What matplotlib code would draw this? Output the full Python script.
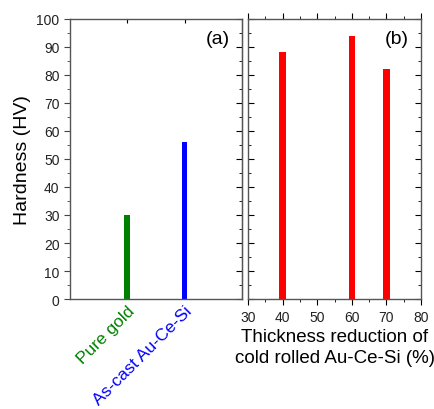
import matplotlib.pyplot as plt
from matplotlib.ticker import MultipleLocator

plt.rcParams['font.family'] = ['Liberation Sans', 'DejaVu Sans']

# panel (a)
materials = ['Pure gold', 'As-cast Au-Ce-Si']
hardness_a = [30, 56]
colors_a = ['green', 'blue']

# panel (b)
reduction = [40, 60, 70]
hardness_b = [88, 94, 82]

fig = plt.figure(figsize=(4.35, 4.10), dpi=100)
ax1 = fig.add_axes([0.161, 0.268, 0.395, 0.684])
ax2 = fig.add_axes([0.570, 0.268, 0.398, 0.684])

pos = [1, 2]
ax1.bar(pos, hardness_a, width=0.1, color=colors_a)
ax1.set_xlim(0, 3)
ax1.set_ylim(0, 100)
ax1.set_xticks(pos)
ax1.set_xticklabels(materials, rotation=45, ha='right', rotation_mode='anchor', fontsize=12.5)
for lab, c in zip(ax1.get_xticklabels(), colors_a):
    lab.set_color(c)
ax1.yaxis.set_major_locator(MultipleLocator(10))
ax1.yaxis.set_minor_locator(MultipleLocator(5))
ax1.tick_params(axis='y', which='both', direction='out', labelsize=10, colors='#444444', labelcolor='#222222')
ax1.tick_params(axis='y', which='major', length=4)
ax1.tick_params(axis='y', which='minor', length=2)
ax1.tick_params(axis='x', which='both', top=True, bottom=False, direction='in', length=3, pad=3)
ax1.set_ylabel('Hardness (HV)', fontsize=14, labelpad=4)
ax1.text(0.93, 0.93, '(a)', transform=ax1.transAxes, ha='right', va='center', fontsize=14)
# right spine ticks (inward)
sec = ax1.secondary_yaxis('right')
sec.yaxis.set_major_locator(MultipleLocator(10))
sec.yaxis.set_minor_locator(MultipleLocator(5))
sec.tick_params(which='both', direction='in', labelright=False)
sec.tick_params(which='major', length=4)
sec.tick_params(which='minor', length=2)

ax2.bar(reduction, hardness_b, width=1.8, color='red')
ax2.set_xlim(30, 80)
ax2.set_ylim(0, 100)
ax2.xaxis.set_major_locator(MultipleLocator(10))
ax2.xaxis.set_minor_locator(MultipleLocator(5))
ax2.yaxis.set_major_locator(MultipleLocator(10))
ax2.yaxis.set_minor_locator(MultipleLocator(5))
ax2.tick_params(axis='x', which='both', direction='out', top=True, labelsize=10, labelcolor='#222222')
ax2.tick_params(axis='x', which='major', length=4)
ax2.tick_params(axis='x', which='minor', length=2)
ax2.tick_params(axis='y', which='both', direction='in', left=True, right=True, labelleft=False)
ax2.tick_params(axis='y', which='major', length=4)
ax2.tick_params(axis='y', which='minor', length=2)
ax2.set_xlabel('Thickness reduction of\ncold rolled Au-Ce-Si (%)', fontsize=13.5, labelpad=3, linespacing=1.35)
ax2.text(0.93, 0.93, '(b)', transform=ax2.transAxes, ha='right', va='center', fontsize=14)

for ax in (ax1, ax2):
    for s in ax.spines.values():
        s.set_color('#555555')
        s.set_linewidth(1.0)

fig.savefig('out.png', dpi=100)
